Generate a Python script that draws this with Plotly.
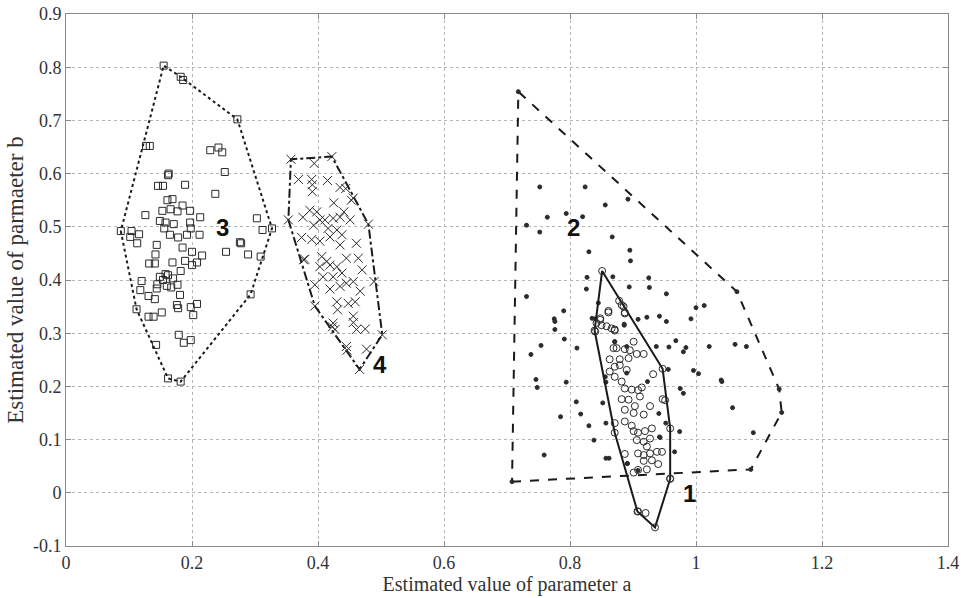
import plotly.graph_objects as go

# ---------------- data ----------------
# Group 3 (open squares)
g3_a = [0.155, 0.182, 0.186, 0.272, 0.327, 0.293, 0.182, 0.162, 0.143, 0.112, 0.087, 0.127, 0.133,
        0.229, 0.242, 0.248, 0.252, 0.162, 0.163, 0.146, 0.154, 0.189, 0.237, 0.161, 0.169, 0.126,
        0.153, 0.166, 0.185, 0.177, 0.197, 0.149, 0.158, 0.171, 0.197, 0.213, 0.156, 0.165, 0.178,
        0.192, 0.198, 0.212, 0.104, 0.102, 0.116, 0.113, 0.144, 0.142, 0.185, 0.200, 0.216, 0.132,
        0.141, 0.169, 0.189, 0.200, 0.208, 0.182, 0.149, 0.158, 0.162, 0.170, 0.154, 0.120, 0.118,
        0.145, 0.144, 0.177, 0.160, 0.167, 0.131, 0.141, 0.181, 0.131, 0.139, 0.152, 0.176, 0.178,
        0.198, 0.208, 0.202, 0.179, 0.187, 0.198, 0.276, 0.278, 0.254, 0.289, 0.303, 0.312, 0.309]
g3_b = [0.803, 0.782, 0.776, 0.702, 0.497, 0.373, 0.209, 0.215, 0.278, 0.345, 0.492, 0.652, 0.652,
        0.644, 0.649, 0.640, 0.603, 0.597, 0.600, 0.577, 0.577, 0.579, 0.562, 0.550, 0.552, 0.522,
        0.530, 0.533, 0.540, 0.529, 0.530, 0.511, 0.508, 0.505, 0.508, 0.518, 0.497, 0.485, 0.480,
        0.485, 0.497, 0.485, 0.492, 0.481, 0.486, 0.469, 0.466, 0.448, 0.461, 0.453, 0.446, 0.431,
        0.431, 0.433, 0.436, 0.428, 0.433, 0.417, 0.406, 0.411, 0.409, 0.403, 0.400, 0.398, 0.381,
        0.392, 0.384, 0.391, 0.389, 0.386, 0.370, 0.364, 0.372, 0.331, 0.331, 0.339, 0.353, 0.347,
        0.349, 0.355, 0.334, 0.297, 0.282, 0.287, 0.471, 0.469, 0.453, 0.448, 0.516, 0.494, 0.444]

# Group 4 (crosses)
g4_a = [0.357, 0.422, 0.394, 0.456, 0.480, 0.489, 0.502, 0.466, 0.446, 0.423, 0.395, 0.377, 0.353,
        0.369, 0.390, 0.415, 0.391, 0.391, 0.435, 0.444, 0.453, 0.425, 0.441, 0.387, 0.398, 0.376,
        0.403, 0.393, 0.411, 0.424, 0.435, 0.451, 0.416, 0.430, 0.438, 0.374, 0.390, 0.403, 0.419,
        0.435, 0.461, 0.379, 0.406, 0.414, 0.403, 0.419, 0.430, 0.445, 0.464, 0.470, 0.408, 0.424,
        0.438, 0.445, 0.456, 0.395, 0.419, 0.435, 0.467, 0.430, 0.448, 0.459, 0.431, 0.456, 0.424,
        0.456, 0.461, 0.475, 0.427, 0.445, 0.477]
g4_b = [0.627, 0.632, 0.619, 0.554, 0.505, 0.397, 0.297, 0.232, 0.268, 0.312, 0.351, 0.438, 0.513,
        0.589, 0.589, 0.587, 0.579, 0.566, 0.574, 0.572, 0.550, 0.545, 0.528, 0.531, 0.528, 0.518,
        0.513, 0.503, 0.513, 0.516, 0.518, 0.513, 0.497, 0.494, 0.485, 0.480, 0.476, 0.473, 0.481,
        0.466, 0.469, 0.439, 0.444, 0.435, 0.425, 0.428, 0.425, 0.441, 0.441, 0.419, 0.406, 0.406,
        0.413, 0.394, 0.397, 0.391, 0.383, 0.388, 0.379, 0.359, 0.356, 0.359, 0.344, 0.332, 0.319,
        0.320, 0.307, 0.308, 0.307, 0.275, 0.270]

# Group 2 (dots)
g2_a = [0.718, 1.065, 1.132, 1.136, 1.087, 0.708,
        0.752, 0.824, 0.856, 0.892, 0.731, 0.752, 0.764, 0.794, 0.820, 0.867, 0.830, 0.895, 0.896,
        0.827, 0.868, 0.925, 0.826, 0.894, 0.926, 0.953, 0.731, 0.790, 0.775, 0.776, 0.776, 0.840,
        0.886, 0.922, 0.942, 0.953, 0.992, 1.000, 1.013, 0.738, 0.754, 0.791, 0.811, 0.871, 0.890,
        0.937, 0.957, 0.968, 0.980, 0.984, 1.021, 1.062, 1.080, 0.746, 0.748, 0.794, 0.857, 0.890,
        0.956, 0.996, 1.004, 1.040, 1.041, 0.975, 0.980, 0.810, 0.852, 0.817, 0.785, 0.830, 0.941,
        0.943, 0.974, 1.058, 1.091, 0.838, 0.759, 0.862, 0.891, 0.966,
        0.886, 0.871, 0.856, 0.923, 0.857, 0.942, 0.891, 0.908, 0.857, 0.952, 0.845, 0.835, 0.908]
g2_b = [0.754, 0.378, 0.195, 0.151, 0.044, 0.021,
        0.575, 0.575, 0.541, 0.552, 0.503, 0.490, 0.518, 0.525, 0.519, 0.481, 0.453, 0.456, 0.436,
        0.405, 0.406, 0.404, 0.383, 0.387, 0.386, 0.374, 0.369, 0.342, 0.327, 0.322, 0.307, 0.327,
        0.315, 0.330, 0.332, 0.322, 0.327, 0.348, 0.352, 0.260, 0.277, 0.289, 0.272, 0.284, 0.275,
        0.275, 0.274, 0.286, 0.265, 0.273, 0.275, 0.279, 0.275, 0.213, 0.198, 0.208, 0.208, 0.225,
        0.232, 0.230, 0.224, 0.212, 0.209, 0.196, 0.187, 0.171, 0.169, 0.148, 0.143, 0.126, 0.149,
        0.104, 0.115, 0.160, 0.113, 0.099, 0.071, 0.065, 0.055, 0.077,
        0.317, 0.284, 0.218, 0.209, 0.131, 0.105, 0.055, 0.042, 0.065, 0.131, 0.357, 0.328, 0.326]

# Group 1 (open circles)
g1_a = [0.851, 0.947, 0.951, 0.959, 0.935, 0.907, 0.839,
        0.861, 0.848, 0.842, 0.840, 0.850, 0.858, 0.866, 0.871, 0.887, 0.882, 0.869, 0.874, 0.887,
        0.906, 0.917, 0.863, 0.879, 0.893, 0.895, 0.901, 0.871, 0.879, 0.890, 0.863, 0.871, 0.882,
        0.932, 0.887, 0.898, 0.908, 0.914, 0.911, 0.882, 0.893, 0.903, 0.927, 0.887, 0.901, 0.917,
        0.947, 0.871, 0.887, 0.898, 0.901, 0.908, 0.919, 0.930, 0.871, 0.906, 0.917, 0.927, 0.922,
        0.908, 0.917, 0.927, 0.938, 0.946, 0.887, 0.917, 0.930, 0.940, 0.922, 0.908, 0.901, 0.959,
        0.959, 0.908, 0.920, 0.861, 0.878, 0.885, 0.887, 0.848, 0.871]
g1_b = [0.417, 0.233, 0.174, 0.027, -0.065, -0.035, 0.305,
        0.339, 0.328, 0.319, 0.303, 0.315, 0.313, 0.309, 0.305, 0.337, 0.353, 0.272, 0.272, 0.270,
        0.261, 0.261, 0.251, 0.251, 0.253, 0.268, 0.284, 0.237, 0.240, 0.231, 0.228, 0.218, 0.209,
        0.223, 0.196, 0.194, 0.193, 0.198, 0.181, 0.176, 0.175, 0.163, 0.163, 0.156, 0.150, 0.147,
        0.176, 0.131, 0.134, 0.126, 0.116, 0.113, 0.116, 0.121, 0.113, 0.099, 0.096, 0.102, 0.087,
        0.074, 0.071, 0.074, 0.077, 0.077, 0.073, 0.060, 0.061, 0.054, 0.044, 0.043, 0.038, 0.121,
        0.026, -0.035, -0.038, 0.342, 0.361, 0.350, 0.339, 0.325, 0.307]

labels = ["1", "2", "3", "4"]
label_a = [0.99, 0.805, 0.248, 0.498]
label_b = [-0.002, 0.498, 0.498, 0.242]

x_ticks = [0, 0.2, 0.4, 0.6, 0.8, 1, 1.2, 1.4]
x_ticklabels = ["0", "0.2", "0.4", "0.6", "0.8", "1", "1.2", "1.4"]
y_ticks = [-0.1, 0, 0.1, 0.2, 0.3, 0.4, 0.5, 0.6, 0.7, 0.8, 0.9]
y_ticklabels = ["-0.1", "0", "0.1", "0.2", "0.3", "0.4", "0.5", "0.6", "0.7", "0.8", "0.9"]


def convex_hull(xs, ys):
    pts = sorted(set(zip(xs, ys)))

    def cross(o, a, b):
        return (a[0] - o[0]) * (b[1] - o[1]) - (a[1] - o[1]) * (b[0] - o[0])

    lower, upper = [], []
    for p in pts:
        while len(lower) >= 2 and cross(lower[-2], lower[-1], p) <= 0:
            lower.pop()
        lower.append(p)
    for p in reversed(pts):
        while len(upper) >= 2 and cross(upper[-2], upper[-1], p) <= 0:
            upper.pop()
        upper.append(p)
    hull = lower[:-1] + upper[:-1]
    hull.append(hull[0])
    return [p[0] for p in hull], [p[1] for p in hull]


INK = "#2b2b2b"
SERIF = "Liberation Serif, Times New Roman, serif"
fig = go.Figure()

groups = [
    (g3_a, g3_b, "square-open", 7, "dot"),
    (g4_a, g4_b, "x-thin-open", 9, "dashdot"),
    (g2_a, g2_b, "circle", 4, "dash"),
    (g1_a, g1_b, "circle-open", 7, "solid"),
]
for xa, yb, sym, sz, dash in groups:
    hx, hy = convex_hull(xa, yb)
    fig.add_trace(go.Scatter(x=hx, y=hy, mode="lines",
                             line=dict(color="#1a1a1a", width=2, dash=dash),
                             hoverinfo="skip", showlegend=False, cliponaxis=False))
    fig.add_trace(go.Scatter(x=xa, y=yb, mode="markers",
                             marker=dict(symbol=sym, size=sz, color=INK,
                                         line=dict(color=INK, width=1)),
                             showlegend=False))

for t, xa, yb in zip(labels, label_a, label_b):
    fig.add_annotation(x=xa, y=yb, text="<b>%s</b>" % t, showarrow=False,
                       font=dict(family="Liberation Sans, Arial", size=24, color="#111"))

axis_common = dict(showgrid=True, gridcolor="#b5b5b5", griddash="dot", gridwidth=1,
                   zeroline=False, showline=True, linecolor="#8a8a8a", linewidth=1,
                   mirror="ticks", ticks="inside", ticklen=5, tickcolor="#8a8a8a",
                   automargin=False,
                   tickfont=dict(family=SERIF, size=18, color="#333"))

fig.update_layout(
    width=961, height=598,
    margin=dict(l=66, r=13, t=14, b=52, autoexpand=False),
    paper_bgcolor="white", plot_bgcolor="white",
    xaxis=dict(range=[0, 1.4], tickvals=x_ticks, ticktext=x_ticklabels,
               title=dict(text="Estimated value of parameter a", standoff=0,
                          font=dict(family=SERIF, size=20, color="#333")),
               **axis_common),
    yaxis=dict(range=[-0.1, 0.9], tickvals=y_ticks, ticktext=y_ticklabels,
               title=dict(text="Estimated value of parmaeter b", standoff=2,
                          font=dict(family=SERIF, size=23, color="#333")),
               **axis_common),
)

# remove the page's default body margin so the figure sits at the window's corner
fig.write_html("out.html",
               config={"displayModeBar": False},
               post_script="document.body.style.margin='0';"
                           "document.documentElement.style.overflow='hidden';")
